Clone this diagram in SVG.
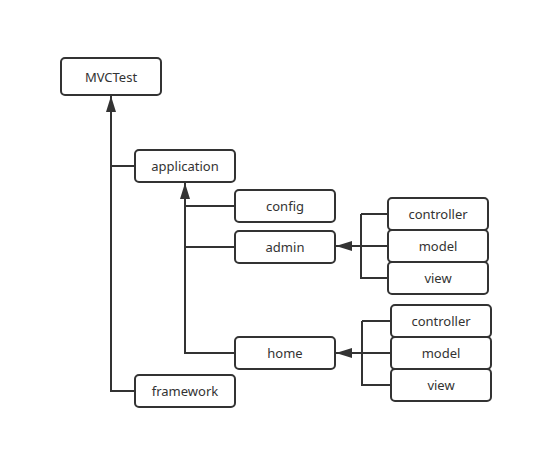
<svg xmlns="http://www.w3.org/2000/svg" width="552" height="469" viewBox="0 0 552 469">
<style>
.n rect{fill:#fff;stroke:#333;stroke-width:2}
.n text{font-family:"Noto Sans","Open Sans",sans-serif;font-size:13px;fill:#333;text-anchor:middle;dominant-baseline:central}
.c path{fill:none;stroke:#333;stroke-width:2}
</style>
<defs>
<marker id="ah" markerUnits="userSpaceOnUse" markerWidth="18" markerHeight="12" refX="16" refY="5" orient="auto">
<path d="M0,0 L16,5 L0,10 Z" fill="#333"/>
</marker>
</defs>
<rect width="552" height="469" fill="#fff"/>
<g class="c">
<path d="M135,166 H111 M135,391 H111 V96" marker-end="url(#ah)"/>
<path d="M235,206 H185 M235,247 H185 M235,353 H185 V183" marker-end="url(#ah)"/>
<path d="M388,214 H361 M388,278 H361 V214 M388,246 H361 H336" marker-end="url(#ah)"/>
<path d="M391,321 H362 M391,385 H362 V321 M391,353 H362 H336" marker-end="url(#ah)"/>
</g>
<g id="mvctest" class="n"><rect x="61" y="58" width="100" height="37" rx="4"/><text x="111" y="76.5">MVCTest</text></g>
<g id="application" class="n"><rect x="135" y="150" width="100" height="32" rx="4"/><text x="185" y="166">application</text></g>
<g id="config" class="n"><rect x="235" y="190" width="100" height="32" rx="4"/><text x="285" y="206">config</text></g>
<g id="admin" class="n"><rect x="235" y="231" width="100" height="32" rx="4"/><text x="285" y="247">admin</text></g>
<g id="home" class="n"><rect x="235" y="337" width="100" height="32" rx="4"/><text x="285" y="353">home</text></g>
<g id="framework" class="n"><rect x="135" y="375" width="100" height="32" rx="4"/><text x="185" y="391">framework</text></g>
<g id="admin-controller" class="n"><rect x="388" y="198" width="100" height="32" rx="4"/><text x="438" y="214">controller</text></g>
<g id="admin-model" class="n"><rect x="388" y="230" width="100" height="32" rx="4"/><text x="438" y="246">model</text></g>
<g id="admin-view" class="n"><rect x="388" y="262" width="100" height="32" rx="4"/><text x="438" y="278">view</text></g>
<g id="home-controller" class="n"><rect x="391" y="305" width="100" height="32" rx="4"/><text x="441" y="321">controller</text></g>
<g id="home-model" class="n"><rect x="391" y="337" width="100" height="32" rx="4"/><text x="441" y="353">model</text></g>
<g id="home-view" class="n"><rect x="391" y="369" width="100" height="32" rx="4"/><text x="441" y="385">view</text></g>
</svg>
